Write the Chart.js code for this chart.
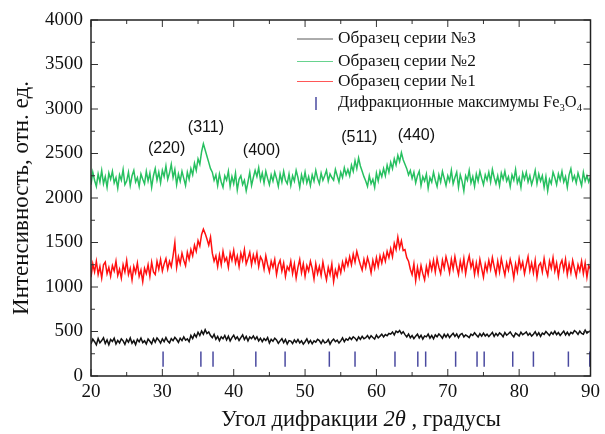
<!DOCTYPE html>
<html><head><meta charset="utf-8">
<script src="https://cdn.jsdelivr.net/npm/chart.js@4"></script>
<style>html,body{margin:0;padding:0;background:#fff}#wrap{width:605px;height:434px}</style>
</head><body><div id="wrap"><canvas id="c" width="605" height="434"></canvas></div>
<script>
// 2θ sampling grid: start and step (degrees)
const angleStart = 20, angleStep = 0.25;

// Образец серии №3 (black) — four samples per degree
const series3 = [
360,415,385,350, 420,372,398,430, 365,405,352,410, 388,425,360,400, 372,418,395,355,
410,380,428,368, 398,352,412,384, 426,375,395,360, 415,390,362,420, 380,428,402,370,
418,385,432,392, 372,420,396,435, 410,378,425,398, 440,402,418,385, 455,420,470,438,
492,455,505,470, 520,478,495,455, 430,468,412,445, 398,440,418,455, 405,448,395,432,
458,415,440,400, 432,462,410,445, 395,438,420,450, 412,440,395,425, 385,420,398,432,
370,412,390,425, 405,368,395,420, 375,410,360,398, 392,365,405,378, 410,372,395,358,
385,418,370,400, 362,395,380,412, 398,365,405,372, 380,410,358,395, 415,385,402,370,
395,428,385,418, 402,432,410,440, 425,398,438,412, 445,418,430,455, 420,452,432,415,
460,428,448,470, 438,465,452,478, 470,495,462,505, 490,512,475,498, 465,440,472,430,
455,420,448,470, 428,458,415,450, 440,470,425,455, 418,462,440,472, 452,425,468,438,
470,432,458,480, 445,472,430,465, 478,440,462,448, 432,470,455,485, 460,438,475,448,
482,450,470,442, 465,490,445,478, 452,485,468,440, 488,458,475,495, 462,440,482,468,
450,492,465,478, 495,458,480,448, 470,498,455,485, 445,482,468,500, 478,455,492,470,
502,465,488,455, 480,505,462,492, 458,490,475,510, 495,468,505,478, 470,515,482,498,
505
];
// Образец серии №2 (green)
const series2 = [
2150,2290,2200,2130, 2270,2180,2310,2160, 2240,2120,2280,2210, 2300,2170,2230,2110, 2260,2200,2320,2150,
2190,2290,2140,2250, 2310,2180,2230,2130, 2270,2210,2160,2300, 2190,2280,2120,2250, 2330,2200,2290,2170,
2310,2240,2360,2210, 2280,2380,2230,2320, 2150,2270,2190,2300, 2220,2140,2290,2210, 2330,2260,2390,2310,
2440,2380,2520,2610, 2540,2470,2400,2330, 2290,2200,2260,2140, 2270,2180,2120,2250, 2200,2300,2130,2240,
2160,2280,2090,2210, 2250,2150,2200,2080, 2180,2290,2140,2230, 2310,2240,2340,2200, 2280,2170,2300,2220,
2150,2260,2190,2290, 2220,2130,2270,2180, 2300,2200,2160,2270, 2140,2250,2190,2310, 2230,2120,2260,2180,
2290,2170,2240,2140, 2260,2190,2310,2220, 2160,2280,2200,2250, 2310,2190,2270,2230, 2200,2320,2250,2180,
2290,2230,2340,2260, 2320,2250,2370,2300, 2420,2330,2450,2360, 2300,2240,2190,2130, 2250,2160,2210,2120,
2280,2190,2300,2240, 2330,2250,2370,2290, 2400,2330,2440,2370, 2480,2410,2510,2430, 2380,2330,2260,2310,
2220,2290,2170,2250, 2300,2140,2240,2190, 2270,2110,2230,2180, 2290,2200,2130,2260, 2180,2300,2220,2140,
2250,2190,2310,2160, 2230,2290,2120,2260, 2190,2080,2250,2200, 2310,2170,2240,2130, 2270,2190,2300,2220,
2150,2260,2200,2290, 2180,2320,2230,2160, 2250,2140,2280,2210, 2300,2190,2240,2130, 2260,2200,2320,2170,
2230,2120,2280,2210, 2290,2180,2250,2150, 2220,2310,2160,2270, 2190,2250,2120,2240, 2080,2210,2160,2290,
2230,2150,2270,2200, 2300,2180,2240,2120, 2260,2330,2200,2250, 2170,2280,2210,2140, 2290,2190,2250,2180,
2240
];
// Образец серии №1 (red)
const series1 = [
1110,1260,1170,1290, 1140,1230,1100,1250, 1280,1150,1220,1120, 1240,1180,1290,1130, 1200,1100,1250,1170,
1300,1140,1210,1080, 1230,1160,1270,1120, 1190,1060,1210,1150, 1250,1120,1280,1170, 1140,1290,1200,1310,
1180,1260,1320,1200, 1290,1230,1350,1500, 1220,1340,1260,1380, 1300,1240,1390,1310, 1420,1350,1470,1400,
1520,1460,1590,1650, 1600,1540,1470,1560, 1380,1290,1350,1230, 1360,1250,1400,1290, 1330,1220,1380,1300,
1410,1270,1350,1230, 1380,1300,1420,1260, 1320,1390,1250,1360, 1280,1380,1230,1340, 1300,1200,1350,1250,
1170,1290,1220,1310, 1140,1250,1300,1180, 1270,1120,1230,1190, 1290,1150,1260,1100, 1220,1310,1160,1260,
1120,1240,1180,1290, 1210,1090,1260,1150, 1230,1130,1280,1170, 1080,1220,1140,1260, 1060,1190,1120,1240,
1160,1280,1200,1310, 1240,1340,1250,1370, 1280,1400,1320,1250, 1190,1310,1220,1330, 1260,1160,1300,1210,
1330,1230,1350,1270, 1370,1290,1400,1330, 1430,1340,1490,1420, 1560,1440,1520,1410, 1420,1330,1290,1200,
1140,1260,1070,1220, 1110,1240,1150,1080, 1230,1140,1280,1190, 1300,1170,1320,1220, 1150,1300,1210,1340,
1260,1160,1310,1200, 1340,1230,1140,1290, 1190,1320,1150,1270, 1350,1220,1290,1140, 1270,1150,1310,1210,
1110,1260,1180,1300, 1200,1330,1230,1140, 1290,1170,1320,1220, 1130,1270,1190,1310, 1230,1100,1260,1170,
1320,1210,1280,1150, 1250,1340,1180,1270, 1160,1300,1110,1240, 1270,1170,1320,1200, 1130,1290,1210,1330,
1180,1270,1120,1250, 1300,1190,1310,1140, 1260,1160,1300,1210, 1120,1250,1180,1290, 1150,1270,1110,1240,
1200
];
// Дифракционные максимумы Fe3O4 (2θ, degrees)
const fe3o4Peaks = [30.1,35.4,37.1,43.1,47.2,53.4,57.0,62.6,65.8,66.9,71.1,74.1,75.1,79.1,82.0,86.9,89.9];
const markerLow = 105, markerHigh = 275;

// tick labels
const xTicks = [20,30,40,50,60,70,80,90];
const yTicks = [0,500,1000,1500,2000,2500,3000,3500,4000];

// peak (hkl) labels and their anchor (2θ, intensity)
const peakLabels = ['(220)','(311)','(400)','(511)','(440)'];
const peakLabelX = [30.6,36.1,43.9,57.6,65.6];
const peakLabelY = [2551,2787,2531,2674,2702];

const seriesNames = ['Образец серии №3','Образец серии №2','Образец серии №1'];
const seriesColors = ['#111111','#27c060','#ff1010'];

function toPoints(arr){ return arr.map((v,i)=>({x:+(angleStart+i*angleStep).toFixed(2), y:v})); }
function markerPoints(){
  const pts=[];
  fe3o4Peaks.forEach(p=>{pts.push({x:p,y:markerLow});pts.push({x:p,y:markerHigh});pts.push({x:p,y:null});});
  return pts;
}

const SERIF = '"Liberation Serif","Times New Roman",serif';
const SANS = '"Liberation Sans",Arial,sans-serif';

// draws a run of [text, font, dy] parts, horizontally scaled to a target width
function drawRun(ctx, parts, x, y, target){
  let w=0; parts.forEach(p=>{ctx.font=p[1]; w+=ctx.measureText(p[0]).width;});
  const k=target/w;
  ctx.save(); ctx.translate(x,y); ctx.scale(k,1);
  let cx=0; parts.forEach(p=>{ctx.font=p[1]; ctx.fillText(p[0],cx,p[2]); cx+=ctx.measureText(p[0]).width;});
  ctx.restore();
}

const decor = {
  id:'decor',
  afterDraw(chart){
    const {ctx, chartArea:a, scales:{x,y}} = chart;
    ctx.save();
    const ln=(x1,y1,x2,y2)=>{ctx.beginPath();ctx.moveTo(x1,y1);ctx.lineTo(x2,y2);ctx.stroke();};
    ctx.strokeStyle='#333'; ctx.lineWidth=1;
    for(let i=0;i<xTicks.length;i++){
      const p=x.getPixelForValue(xTicks[i]);
      ln(p,a.bottom,p,a.bottom-7); ln(p,a.top,p,a.top+7);
      if(i<xTicks.length-1){
        const m=x.getPixelForValue((xTicks[i]+xTicks[i+1])/2);
        ln(m,a.bottom,m,a.bottom-4); ln(m,a.top,m,a.top+4);
      }
    }
    for(let i=0;i<yTicks.length;i++){
      const p=y.getPixelForValue(yTicks[i]);
      ln(a.left,p,a.left+7,p); ln(a.right,p,a.right-7,p);
      if(i<yTicks.length-1){
        const m=y.getPixelForValue((yTicks[i]+yTicks[i+1])/2);
        ln(a.left,m,a.left+4,m); ln(a.right,m,a.right-4,m);
      }
    }
    ctx.lineWidth=1.5; ctx.strokeStyle='#222';
    ctx.strokeRect(a.left,a.top,a.right-a.left,a.bottom-a.top);

    // peak labels
    ctx.fillStyle='#111'; ctx.font='16px '+SANS; ctx.textAlign='center'; ctx.textBaseline='middle';
    peakLabels.forEach((t,i)=>ctx.fillText(t,x.getPixelForValue(peakLabelX[i]),y.getPixelForValue(peakLabelY[i])));

    // legend
    const lx=a.left+206, tx=a.left+247;
    const rows=[a.top+19,a.top+41.5,a.top+61.5,a.top+83];
    ctx.textAlign='left'; ctx.textBaseline='middle';
    for(let i=0;i<3;i++){
      ctx.strokeStyle=seriesColors[i]; ctx.lineWidth=1; ctx.globalAlpha=0.7;
      ln(lx,rows[i],lx+36,rows[i]); ctx.globalAlpha=1;
      ctx.fillStyle='#111';
      drawRun(ctx,[[seriesNames[i],'17px '+SERIF,0]],tx,rows[i],138);
    }
    ctx.strokeStyle='#4a4aa0'; ctx.lineWidth=1.5;
    ln(lx+19,rows[3]-6,lx+19,rows[3]+7);
    drawRun(ctx,[['Дифракционные максимумы Fe','17px '+SERIF,0],['3','11px '+SERIF,5],['O','17px '+SERIF,0],['4','11px '+SERIF,5]],tx,rows[3],244);

    // x axis title with italic 2θ
    const pieces=[['Угол дифракции ','normal'],['2θ','italic'],[' , градусы','normal']];
    let total=0;
    pieces.forEach(p=>{ctx.font=p[1]+' 22.5px '+SERIF; total+=ctx.measureText(p[0]).width;});
    let cx=361-total/2; ctx.fillStyle='#111'; ctx.textBaseline='middle';
    pieces.forEach(p=>{ctx.font=p[1]+' 22.5px '+SERIF; ctx.fillText(p[0],cx,420); cx+=ctx.measureText(p[0]).width;});

    // y axis title
    ctx.save(); ctx.translate(22,198); ctx.rotate(-Math.PI/2);
    ctx.font='23px '+SERIF; ctx.textAlign='center'; ctx.fillText('Интенсивность, отн. ед.',0,0);
    ctx.restore();
    ctx.restore();
  }
};

new Chart(document.getElementById('c'),{
  type:'line',
  data:{datasets:[
    {label:seriesNames[0],data:toPoints(series3),borderColor:seriesColors[0],borderWidth:1.5,pointRadius:0,tension:0},
    {label:seriesNames[1],data:toPoints(series2),borderColor:seriesColors[1],borderWidth:1.5,pointRadius:0,tension:0},
    {label:seriesNames[2],data:toPoints(series1),borderColor:seriesColors[2],borderWidth:1.5,pointRadius:0,tension:0},
    {label:'Fe3O4',data:markerPoints(),borderColor:'#4a4aa0',borderWidth:1.5,pointRadius:0,spanGaps:false}
  ]},
  options:{
    responsive:false,animation:false,devicePixelRatio:1,
    layout:{padding:{left:0,top:20,right:12,bottom:0}},
    plugins:{legend:{display:false},tooltip:{enabled:false}},
    scales:{
      x:{type:'linear',min:20,max:90,
        afterBuildTicks:s=>{s.ticks=xTicks.map(v=>({value:v}));},
        afterFit:s=>{s.height=58;},
        grid:{display:false,drawTicks:false},border:{display:false},
        ticks:{font:{family:SERIF,size:19},color:'#111',padding:5,maxRotation:0,autoSkip:false,callback:v=>String(v)}},
      y:{type:'linear',min:0,max:4000,
        afterBuildTicks:s=>{s.ticks=yTicks.map(v=>({value:v}));},
        afterFit:s=>{s.width=91;},
        grid:{display:false,drawTicks:false},border:{display:false},
        ticks:{font:{family:SERIF,size:19},color:'#111',padding:8,autoSkip:false,callback:v=>String(v)}}
    }
  },
  plugins:[decor]
});
</script></body></html>
